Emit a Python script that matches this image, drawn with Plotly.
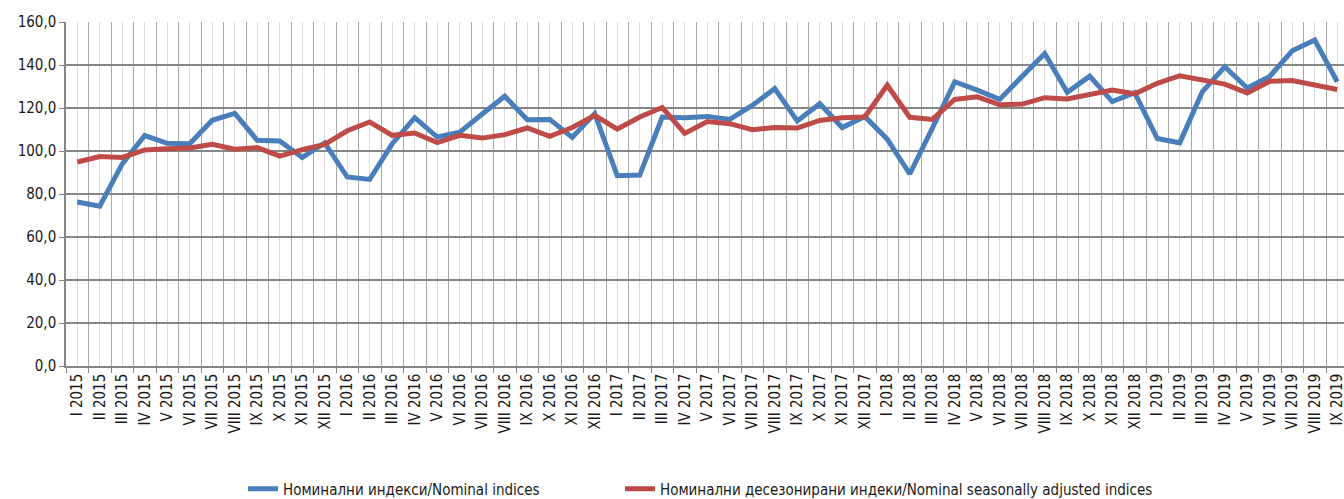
import plotly.graph_objects as go

months = ["I", "II", "III", "IV", "V", "VI", "VII", "VIII", "IX", "X", "XI", "XII"]
categories = [f"{m} {y}" for y in (2015, 2016, 2017, 2018) for m in months] + \
             [f"{m} 2019" for m in months[:9]]

nominal = [76.3, 74.3, 94.0, 107.2, 103.6, 103.4, 114.3, 117.5, 105.0, 104.7, 97.0, 103.8,
           87.9, 86.8, 103.4, 115.5, 106.5, 108.8, 117.2, 125.5, 114.5, 114.7, 106.3, 117.4,
           88.5, 88.8, 115.8, 115.5, 116.1, 114.7, 121.2, 129.0, 114.0, 122.0, 110.9, 116.1,
           105.5, 89.3, 110.5, 132.2, 128.3, 124.0, 134.8, 145.3, 127.3, 134.8, 123.0, 127.1,
           105.8, 103.8, 127.5, 139.2, 129.3, 134.7, 146.6, 151.6, 132.2]

seasonally_adjusted = [94.9, 97.4, 97.0, 100.5, 101.1, 101.4, 103.1, 100.8, 101.6, 97.6, 100.6, 103.1,
                       109.4, 113.5, 107.3, 108.4, 103.9, 107.3, 106.0, 107.6, 110.7, 106.8, 110.9, 116.6,
                       110.2, 115.8, 120.2, 108.2, 113.7, 112.7, 109.9, 110.9, 110.7, 114.2, 115.5, 115.8,
                       130.6, 115.7, 114.7, 124.0, 125.2, 121.5, 121.8, 124.8, 124.2, 126.3, 128.3, 126.6,
                       131.5, 135.0, 133.1, 131.1, 127.0, 132.4, 132.8, 130.6, 128.6]

series_names = ["Номинални индекси/Nominal indices",
                "Номинални десезонирани индеки/Nominal seasonally adjusted indices"]

FONT = "DejaVu Sans Condensed, Liberation Sans Narrow, sans-serif"
TXT = "#1a1a1a"
xs = list(range(len(categories)))

fig = go.Figure()
fig.add_trace(go.Scatter(x=xs, y=nominal, mode="lines", name=series_names[0],
                         line=dict(color="#4A7EBB", width=5), legend="legend"))
fig.add_trace(go.Scatter(x=xs, y=seasonally_adjusted, mode="lines", name=series_names[1],
                         line=dict(color="#BE4B48", width=5), legend="legend2"))

legend_y = -(489 - 366) / 344
common_legend = dict(orientation="h", xanchor="left", y=legend_y, yanchor="middle",
                     font=dict(family=FONT, size=15, color=TXT), itemwidth=30,
                     bgcolor="rgba(0,0,0,0)", borderwidth=0)

fig.update_layout(
    width=1344, height=499,
    margin=dict(l=66, r=0, t=22, b=133, autoexpand=False),
    paper_bgcolor="white", plot_bgcolor="white",
    separators=",.",
    font=dict(family=FONT, size=15, color=TXT),
    showlegend=True,
    legend=dict(x=(243 - 66) / 1278, **common_legend),
    legend2=dict(x=(620 - 66) / 1278, **common_legend),
)

fig.update_xaxes(
    range=[-0.5, 56.3],
    tickmode="array", tickvals=xs, ticktext=categories,
    tickangle=-90, tickfont=dict(family=FONT, size=15, color=TXT),
    ticklabeloverflow="allow",
    ticks="", showgrid=True, gridcolor="#dcdcdc", gridwidth=1,
    minor=dict(tickvals=[i + 0.5 for i in range(-1, len(categories))],
               showgrid=True, gridcolor="#a8a8a8", gridwidth=1,
               ticks="outside", ticklen=5, tickcolor="#868686", tickwidth=1),
    showline=True, linecolor="#868686", linewidth=1.5,
    zeroline=False, fixedrange=True,
)
fig.update_yaxes(
    range=[0, 160], dtick=20, tick0=0, tickformat=".1f",
    tickfont=dict(family=FONT, size=15, color=TXT),
    ticks="outside", ticklen=5, tickcolor="#868686",
    showgrid=True, gridcolor="#868686", gridwidth=1.5,
    showline=True, linecolor="#868686", linewidth=1.5,
    zeroline=False, fixedrange=True,
)

fig.write_html(
    "out.html",
    config={"displayModeBar": False},
    post_script="document.body.style.margin='0';document.body.style.overflow='hidden';",
)
